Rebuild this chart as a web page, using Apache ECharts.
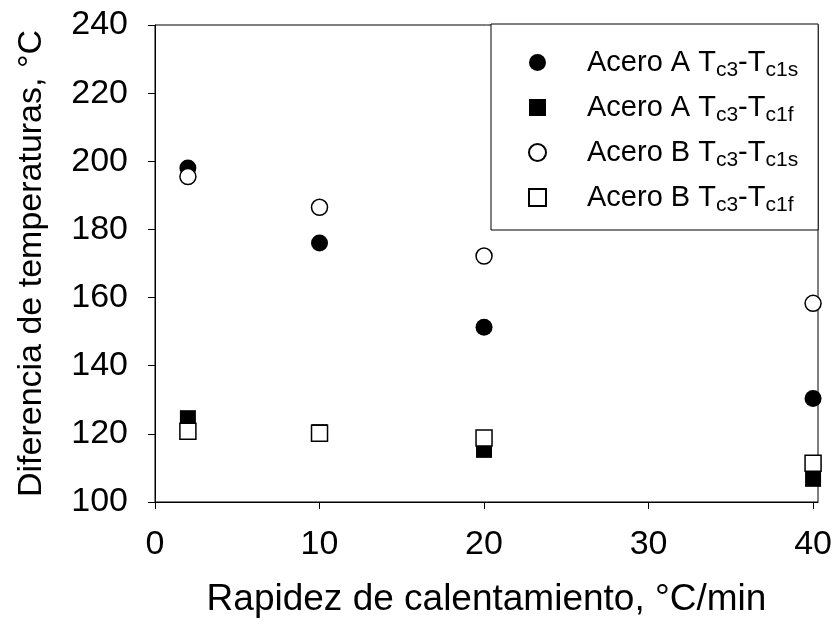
<!DOCTYPE html>
<html>
<head>
<meta charset="utf-8">
<script src="https://cdn.jsdelivr.net/npm/echarts@6/dist/echarts.min.js"></script>
<style>
  html, body { margin: 0; padding: 0; background: #fff; }
  #main { width: 833px; height: 629px; }
</style>
</head>
<body>
<div id="main"></div>
<script>
// rapidez de calentamiento (°C/min)
var rapidez = [2, 10, 20, 40];
// diferencia de temperaturas (°C)
var aceroA_c1s = [198, 176, 151.3, 130.4];
var aceroA_c1f = [124.6, 120.5, 115.3, 106.8];
var aceroB_c1s = [195.5, 186.5, 172.2, 158.3];
var aceroB_c1f = [120.8, 120.2, 118.8, 111.4];
var xTicks = [0, 10, 20, 30, 40];

var nombres = ['Acero A Tc3-Tc1s', 'Acero A Tc3-Tc1f', 'Acero B Tc3-Tc1s', 'Acero B Tc3-Tc1f'];
var etiquetas = {
  'Acero A Tc3-Tc1s': '{g|}{n|Acero A T}{s|c3}{n|-T}{s|c1s}',
  'Acero A Tc3-Tc1f': '{g|}{n|Acero A T}{s|c3}{n|-T}{s|c1f}',
  'Acero B Tc3-Tc1s': '{g|}{n|Acero B T}{s|c3}{n|-T}{s|c1s}',
  'Acero B Tc3-Tc1f': '{g|}{n|Acero B T}{s|c3}{n|-T}{s|c1f}'
};

function pares(vals) {
  var out = [];
  for (var i = 0; i < rapidez.length; i++) out.push([rapidez[i], vals[i]]);
  return out;
}

var fuente = 'Liberation Sans, Arial, sans-serif';
var myChart = echarts.init(document.getElementById('main'));

myChart.setOption({
  animation: false,
  backgroundColor: '#fff',
  textStyle: { fontFamily: fuente, color: '#000' },
  grid: {
    left: 155, right: 15, top: 25, bottom: 127,
    show: true, borderColor: '#000', borderWidth: 1,
    outerBoundsMode: 'none'
  },
  legend: {
    orient: 'vertical',
    left: 491, top: 24,
    padding: [24, 20, 14, 37],
    itemWidth: 17, itemHeight: 17, itemGap: 12,
    borderColor: '#000', borderWidth: 1, borderRadius: 0,
    backgroundColor: '#fff',
    data: nombres,
    formatter: function (name) { return etiquetas[name]; },
    textStyle: {
      fontFamily: fuente, color: '#000',
      rich: {
        g: { width: 36 },
        n: { fontSize: 29, lineHeight: 37, fontFamily: fuente, color: '#000' },
        s: { fontSize: 21, lineHeight: 20, verticalAlign: 'bottom', fontFamily: fuente, color: '#000' }
      }
    }
  },
  xAxis: {
    type: 'value', min: 0, max: 40.3,
    axisLine: { lineStyle: { color: '#000', width: 1 } },
    axisTick: { show: true, length: 7, lineStyle: { color: '#000' }, customValues: xTicks },
    axisLabel: { fontSize: 34, color: '#000', margin: 26, fontFamily: fuente, customValues: xTicks },
    splitLine: { show: false },
    name: 'Rapidez de calentamiento, °C/min',
    nameLocation: 'middle', nameGap: 79,
    nameTextStyle: { fontSize: 37, color: '#000', fontFamily: fuente }
  },
  yAxis: {
    type: 'value', min: 100, max: 240, interval: 20,
    axisLine: { show: true, lineStyle: { color: '#000', width: 1 } },
    axisTick: { show: true, length: 7, lineStyle: { color: '#000' } },
    axisLabel: { fontSize: 34, color: '#000', margin: 27, fontFamily: fuente },
    splitLine: { show: false },
    name: 'Diferencia de temperaturas, °C',
    nameLocation: 'middle', nameGap: 106,
    nameTextStyle: { fontSize: 34, color: '#000', fontFamily: fuente }
  },
  series: [
    {
      name: nombres[0], type: 'scatter', symbol: 'circle', symbolSize: 17,
      itemStyle: { color: '#000', opacity: 1 },
      data: pares(aceroA_c1s)
    },
    {
      name: nombres[1], type: 'scatter', symbol: 'rect', symbolSize: 16,
      itemStyle: { color: '#000', opacity: 1 },
      data: pares(aceroA_c1f)
    },
    {
      name: nombres[2], type: 'scatter', symbol: 'circle', symbolSize: 16,
      itemStyle: { color: '#fff', borderColor: '#000', borderWidth: 1.5, opacity: 1 },
      data: pares(aceroB_c1s)
    },
    {
      name: nombres[3], type: 'scatter', symbol: 'rect', symbolSize: 16,
      itemStyle: { color: '#fff', borderColor: '#000', borderWidth: 1.5, opacity: 1 },
      data: pares(aceroB_c1f)
    }
  ]
});
</script>
</body>
</html>
